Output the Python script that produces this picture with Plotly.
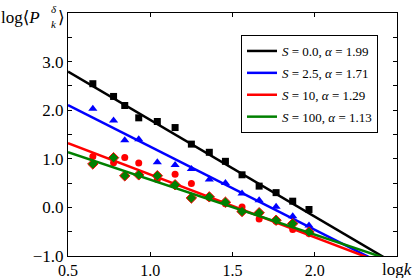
import plotly.graph_objects as go

# ---- data ----
x_black = [0.651, 0.777, 0.845, 0.930, 1.043, 1.151, 1.250, 1.359, 1.457, 1.558, 1.662, 1.765, 1.866, 1.965]
y_black = [2.545, 2.283, 2.097, 1.843, 1.767, 1.643, 1.302, 1.134, 0.948, 0.671, 0.438, 0.304, 0.128, -0.043]

x_blue = [0.651, 0.777, 0.845, 0.930, 1.043, 1.151, 1.250, 1.359, 1.457, 1.558, 1.662, 1.765, 1.866, 1.965]
y_blue = [2.029, 1.787, 1.382, 1.403, 0.928, 0.872, 0.789, 0.576, 0.500, 0.287, 0.149, 0.014, -0.182, -0.374]

x_red = [0.651, 0.777, 0.845, 0.930, 1.043, 1.151, 1.250, 1.359, 1.457, 1.558, 1.662, 1.765, 1.866, 1.965]
y_red = [1.047, 0.919, 1.027, 0.913, 0.572, 0.680, 0.490, 0.200, 0.076, 0.010, -0.240, -0.285, -0.457, -0.539]

x_green = [0.651, 0.777, 0.845, 0.930, 1.043, 1.151, 1.250, 1.359, 1.457, 1.558, 1.662, 1.765, 1.866, 1.965]
y_green = [0.893, 1.023, 0.649, 0.669, 0.651, 0.465, 0.194, 0.217, 0.107, -0.085, -0.110, -0.264, -0.333, -0.506]

fit_x = [0.5, 2.5]
fit_black = [2.795, -1.185]
fit_blue = [2.105, -1.315]
fit_red = [1.320, -1.260]
fit_green = [1.135, -1.125]

legend_names = [
    "<i>S</i> = 0.0, <i>α</i> = 1.99",
    "<i>S</i> = 2.5, <i>α</i> = 1.71",
    "<i>S</i> = 10, <i>α</i> = 1.29",
    "<i>S</i> = 100, <i>α</i> = 1.13",
]

x_ticks = [0.5, 1.0, 1.5, 2.0]
x_ticklabels = ["0.5", "1.0", "1.5", "2.0"]
y_ticks = [-1.0, -0.5, 0.0, 0.5, 1.0, 1.5, 2.0, 2.5, 3.0, 3.5]
y_ticklabels = ["−1.0", "", "0.0", "", "1.0", "", "2.0", "", "3.0", ""]

FONT = "Liberation Serif, DejaVu Serif, serif"

fig = go.Figure()

series = [
    (x_black, y_black, fit_black, "black", "square", 7, None, legend_names[0]),
    (x_blue, y_blue, fit_blue, "#0000ff", "triangle-up", 8, None, legend_names[1]),
    (x_red, y_red, fit_red, "#ff0000", "circle", 7, None, legend_names[2]),
    (x_green, y_green, fit_green, "#008000", "diamond", 8, "#ff0000", legend_names[3]),
]

for xs, ys, fy, col, sym, size, edge, name in series:
    marker = dict(color=col, symbol=sym, size=size)
    if edge:
        marker["line"] = dict(color=edge, width=1)
    else:
        marker["line"] = dict(width=0)
    fig.add_trace(go.Scatter(x=xs, y=ys, mode="markers", marker=marker,
                             showlegend=False, cliponaxis=False))
    fig.add_trace(go.Scatter(x=fit_x, y=fy, mode="lines",
                             line=dict(color=col, width=2.5), name=name,
                             legendgroup=name))

W, H = 415, 278
L, R, T, B = 68, 18, 13, 22
pw = W - L - R
ph = H - T - B

fig.update_layout(
    width=W, height=H,
    margin=dict(l=L, r=R, t=T, b=B, pad=0, autoexpand=False),
    plot_bgcolor="white", paper_bgcolor="white",
    font=dict(family=FONT, size=17, color="black"),
    showlegend=True,
    legend=dict(
        x=(241 - L) / pw, y=1 - (35 - T) / ph, xanchor="left", yanchor="top",
        bgcolor="white", bordercolor="black", borderwidth=1,
        font=dict(family=FONT, size=13, color="black"),
        tracegroupgap=2,
    ),
    xaxis=dict(
        range=[0.5, 2.5], tickvals=x_ticks, ticktext=x_ticklabels,
        ticks="inside", ticklen=4, tickcolor="black", tickwidth=1,
        tickfont=dict(family=FONT, size=16), ticklabelstandoff=0,
        showline=True, linecolor="black", linewidth=1, mirror="allticks",
        showgrid=False, zeroline=False, automargin=False,
    ),
    yaxis=dict(
        range=[-1.0, 4.0], tickvals=y_ticks, ticktext=y_ticklabels,
        ticks="inside", ticklen=4, tickcolor="black", tickwidth=1,
        showline=True, linecolor="black", linewidth=1, mirror="allticks",
        showgrid=False, zeroline=False, automargin=False,
    ),
)

# axis labels placed at the axis ends
fig.add_annotation(xref="paper", yref="paper", x=(413 - L) / pw, y=-(269 - T - ph) / ph,
                   text="log<i>k</i>", showarrow=False, xanchor="right", yanchor="middle",
                   borderpad=0, font=dict(family=FONT, size=17))
fig.add_annotation(xref="paper", yref="paper", x=(0 - L) / pw, y=1 - (17 - T) / ph,
                   text="log⟨<i>P</i>", showarrow=False, xanchor="left", yanchor="middle",
                   borderpad=0, font=dict(family=FONT, size=17))
fig.add_annotation(xref="paper", yref="paper", x=(50 - L) / pw, y=1 - (9 - T) / ph,
                   text="<i>δ</i>", showarrow=False, xanchor="left", yanchor="middle",
                   borderpad=0, font=dict(family=FONT, size=11))
fig.add_annotation(xref="paper", yref="paper", x=(50 - L) / pw, y=1 - (24 - T) / ph,
                   text="<i>k</i>", showarrow=False, xanchor="left", yanchor="middle",
                   borderpad=0, font=dict(family=FONT, size=11))
fig.add_annotation(xref="paper", yref="paper", x=(57 - L) / pw, y=1 - (17 - T) / ph,
                   text="⟩", showarrow=False, xanchor="left", yanchor="middle",
                   borderpad=0, font=dict(family=FONT, size=17))

fig.write_html("out.html", config={"displayModeBar": False},
               post_script="document.body.style.margin='0';document.body.style.overflow='hidden';")
